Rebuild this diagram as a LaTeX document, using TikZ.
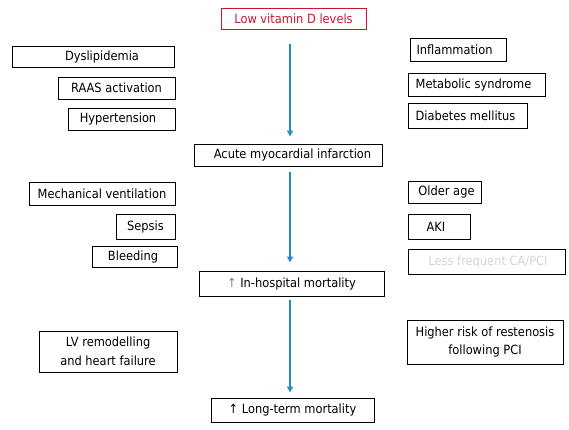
\documentclass[tikz,border=0pt]{standalone}
\usepackage{fontspec}
\setmainfont{DejaVu Sans}[FakeStretch=0.9]
\usetikzlibrary{arrows.meta}
\definecolor{flowblue}{RGB}{38,140,190}
\definecolor{vitred}{RGB}{205,20,50}
\definecolor{fadegray}{RGB}{212,212,212}
\tikzset{
  box/.style={draw=black, line width=1pt, inner sep=0pt, font=\fontsize{12.7}{18.5}\selectfont, align=center},
  flow/.style={draw=flowblue, line width=1.4pt, -{Triangle[width=6pt,length=6pt]}},
}
\newcommand{\bx}[6]{% name, x1, y1, x2, y2, text
  \node[box, minimum width={(#4-#2)*1pt}, minimum height={(#5-#3)*1pt}] (#1) at ({(#2+#4)/2},{(#3+#5)/2}) {#6};}
\begin{document}
\begin{tikzpicture}[x=1pt,y=-1pt]
\useasboundingbox (0,0) rectangle (569,429);
% red top box
\node[box, draw=vitred, text=vitred, minimum width=145pt, minimum height=21pt] (low) at (293.5,18.5) {Low vitamin D levels};
% central chain
\node[box, minimum width=188pt, minimum height=22pt] (ami) at (288,155) {\hspace*{9pt}Acute myocardial infarction};
\node[box, minimum width=185pt, minimum height=25pt] (hosp) at (291.5,283.5) {\textcolor{gray}{↑} In-hospital mortality};
\node[box, minimum width=163pt, minimum height=24pt] (long) at (292.5,410) {↑ Long-term mortality};
% left column
\node[box, minimum width=162pt, minimum height=21pt] (dys) at (93,56.5) {\hspace*{18pt}Dyslipidemia};
\node[box, minimum width=117pt, minimum height=22pt] (raas) at (116.5,88) {RAAS activation};
\node[box, minimum width=107pt, minimum height=22pt] (hyp) at (121.5,119) {Hypertension\hspace*{7pt}};
\node[box, minimum width=146pt, minimum height=23pt] (mech) at (102,193.5) {Mechanical ventilation};
\node[box, minimum width=59pt, minimum height=25pt] (sep) at (145.5,226.5) {Sepsis};
\node[box, minimum width=85pt, minimum height=21pt] (bleed) at (134.5,256.5) {Bleeding\hspace*{3pt}};
\node[box, minimum width=138pt, minimum height=41pt] (lv) at (108,351.5) {LV remodelling\\and heart failure};
% right column
\node[box, minimum width=96pt, minimum height=23pt] (infl) at (458,49.5) {Inflammation\hspace*{7pt}};
\node[box, minimum width=137pt, minimum height=23pt] (meta) at (476.5,84.5) {Metabolic syndrome\hspace*{6pt}};
\node[box, minimum width=119pt, minimum height=25pt] (diab) at (467.5,115.5) {Diabetes mellitus\hspace*{4pt}};
\node[box, minimum width=73pt, minimum height=22pt] (old) at (444.5,192) {\hspace*{4pt}Older age};
\node[box, minimum width=62pt, minimum height=25pt] (aki) at (439,226.5) {AKI\hspace*{6pt}};
\node[box, minimum width=157pt, minimum height=25pt, text=fadegray] (less) at (486.5,261.5) {\hspace*{3pt}Less frequent CA/PCI};
\node[box, minimum width=156pt, minimum height=44pt] (rest) at (485,342) {Higher risk of restenosis\\following PCI};
% arrows
\coordinate (axis) at (290,0);
\draw[flow, shorten <=14pt, shorten >=7pt] (low.south -| axis) -- (ami.north -| axis);
\draw[flow, shorten <=5pt, shorten >=8pt] (ami.south -| axis) -- (hosp.north -| axis);
\draw[flow, shorten <=3pt, shorten >=5pt] (hosp.south -| axis) -- (long.north -| axis);
\end{tikzpicture}
\end{document}
